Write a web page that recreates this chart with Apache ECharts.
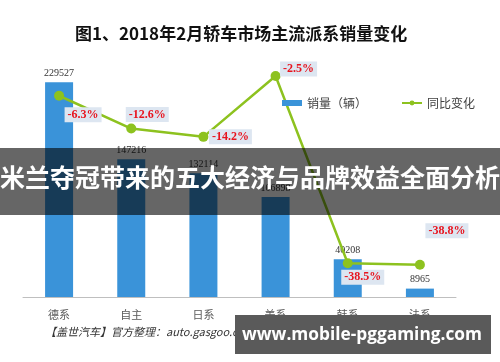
<!DOCTYPE html>
<html><head><meta charset="utf-8">
<script src="https://cdn.jsdelivr.net/npm/echarts@6/dist/echarts.min.js"></script>
<style>html,body{margin:0;padding:0;background:#fff}#c{width:500px;height:362px}</style>
</head><body><div id="c"></div>
<script>
const categories = ['德系', '自主', '日系', '美系', '韩系', '法系'];
const sales = [229527, 147216, 132114, 106898, 40208, 8965];
const yoy = [-6.3, -12.6, -14.2, -2.5, -38.5, -38.8];
const yoyLabelOffsets = [[24, 19], [16, -14], [27, 0], [23, -7], [15, 14], [27, -34]];

const chart = echarts.init(document.getElementById('c'));
chart.setOption({
  animation: false,
  backgroundColor: '#fff',
  title: {
    text: '图1、2018年2月轿车市场主流派系销量变化',
    left: 70, top: 20,
    textStyle: { fontSize: 17, fontWeight: 'bold', color: '#111', fontFamily: 'Noto Sans CJK SC' }
  },
  legend: {
    left: 277, top: 92, itemWidth: 20, itemHeight: 6, itemGap: 34,
    textStyle: { fontSize: 12, color: '#404040', fontFamily: 'Noto Sans CJK SC' },
    data: [{ name: '销量（辆）', icon: 'rect' }, { name: '同比变化' }]
  },
  grid: { left: 23, right: 44, top: 63, bottom: 65 },
  xAxis: {
    type: 'category', data: categories,
    axisLine: { lineStyle: { color: '#bfbfbf' } },
    axisTick: { length: 4, lineStyle: { color: '#bfbfbf' } },
    axisLabel: { color: '#595959', fontSize: 11, margin: 12, fontFamily: 'Noto Sans CJK SC' }
  },
  yAxis: [
    { type: 'value', min: 0, max: 250000, show: false, splitLine: { show: false } },
    { type: 'value', min: -45, max: 0, show: false, splitLine: { show: false } }
  ],
  series: [
    {
      name: '销量（辆）', type: 'bar', data: sales, barWidth: 28,
      itemStyle: { color: '#3a93d9' },
      label: { show: true, position: 'top', distance: 4, color: '#333', fontSize: 10, fontFamily: 'Liberation Serif' }
    },
    {
      name: '同比变化', type: 'line', yAxisIndex: 1,
      data: yoy.map((v, i) => ({ value: v, label: { offset: yoyLabelOffsets[i] } })),
      symbol: 'circle', symbolSize: 10,
      lineStyle: { color: '#8dc21f', width: 2.5 },
      itemStyle: { color: '#8dc21f' },
      label: {
        show: true, position: 'inside',
        formatter: p => p.value + '%',
        color: '#e8141e', fontWeight: 'bold', fontSize: 12, fontFamily: 'Liberation Serif',
        backgroundColor: '#dde6f1', padding: [2, 3, 1, 3]
      }
    }
  ],
  graphic: [
    { type: 'text', left: 45, top: 326, style: { text: '【盖世汽车】官方整理：auto.gasgoo.com权威发布', fill: '#333', fontSize: 11, fontStyle: 'italic', fontFamily: 'Noto Sans CJK SC' } },
    { type: 'rect', left: 0, top: 148, z: 100, shape: { width: 500, height: 67 }, style: { fill: 'rgba(0,0,0,0.6)' } },
    { type: 'text', left: 'center', top: 165, z: 101, style: { text: '米兰夺冠带来的五大经济与品牌效益全面分析', fill: '#fff', fontSize: 25, fontWeight: 'bold', fontFamily: 'Noto Sans CJK SC' } },
    { type: 'rect', left: 235, top: 315, z: 100, shape: { width: 256, height: 39 }, style: { fill: '#5a5a5a' } },
    { type: 'text', x: 362, y: 335, z: 101, style: { text: 'www.mobile-pggaming.com', fill: '#fff', fontSize: 17.3, fontWeight: 'bold', fontFamily: 'Open Sans', align: 'center', verticalAlign: 'middle' } }
  ]
});
</script></body></html>
